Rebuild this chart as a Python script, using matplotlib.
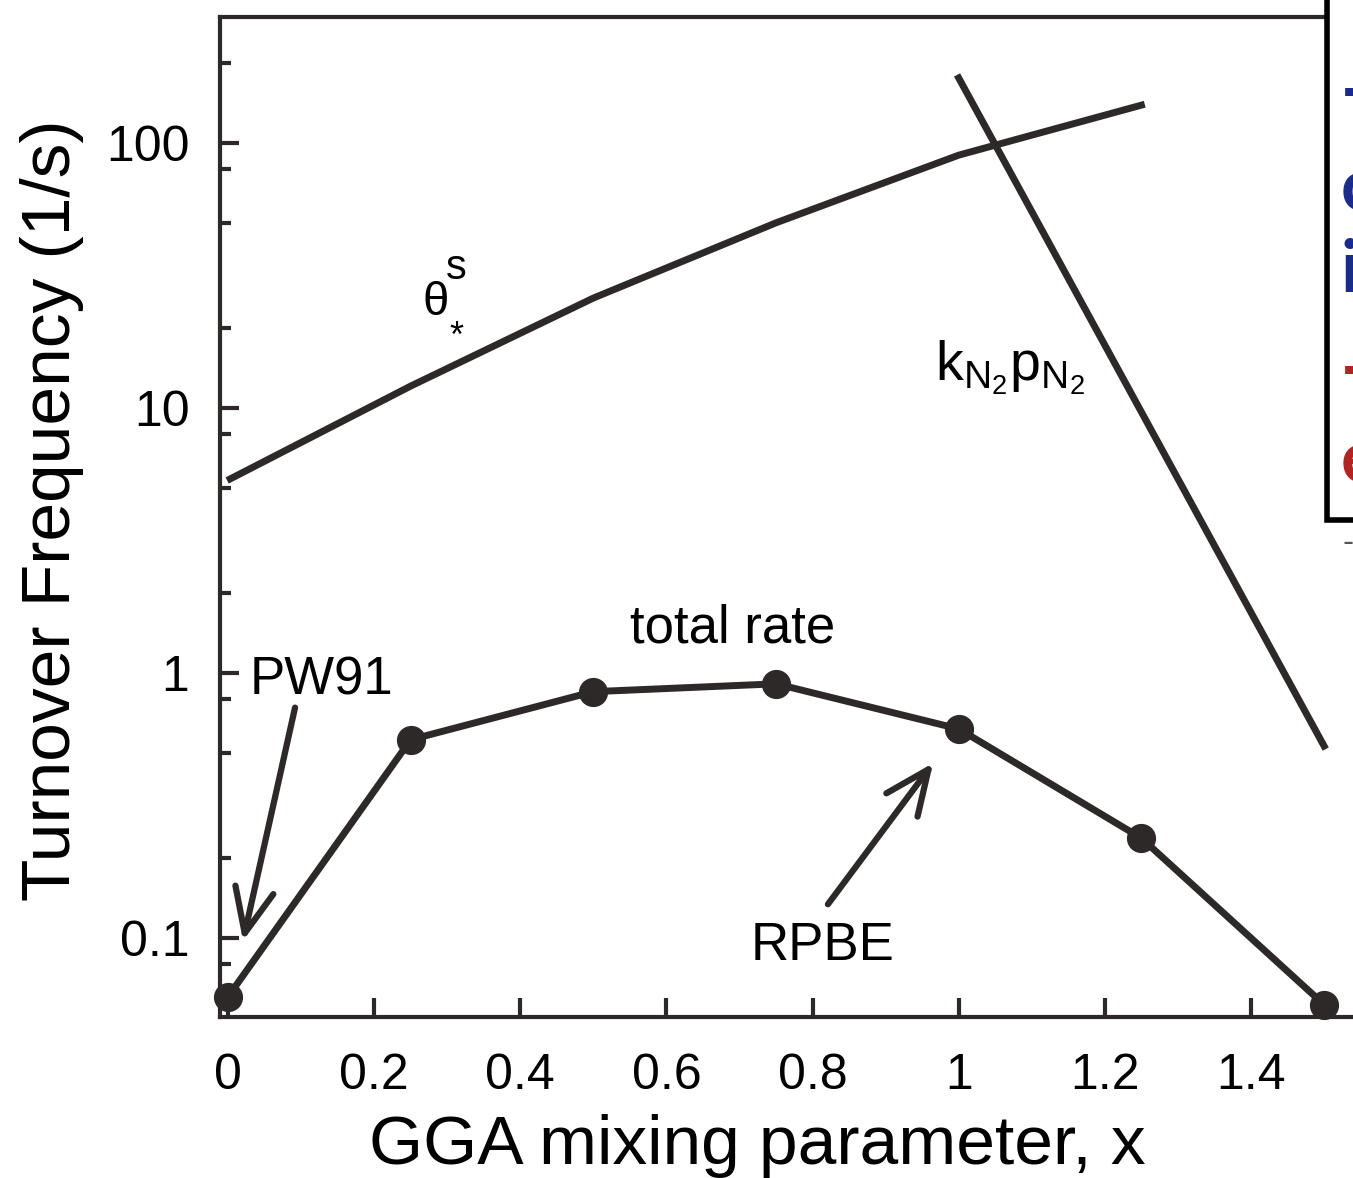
import matplotlib
matplotlib.use("Agg")
import matplotlib.pyplot as plt
import numpy as np
from matplotlib.patches import Rectangle
from matplotlib.ticker import FixedLocator, NullFormatter

plt.rcParams['font.family'] = ['Liberation Sans', 'DejaVu Sans']
plt.rcParams['mathtext.fontset'] = 'custom'
plt.rcParams['mathtext.rm'] = 'Liberation Sans'
plt.rcParams['mathtext.it'] = 'Liberation Sans'

# data
mix_x = [0.0, 0.25, 0.5, 0.75, 1.0, 1.25, 1.5]
total_rate = [0.060, 0.56, 0.85, 0.91, 0.615, 0.238, 0.056]

theta_x = [0.003, 0.25, 0.5, 0.75, 1.0, 1.25]
theta_rate = [5.4, 12.1, 26.0, 50.0, 90.0, 139.0]

kp_x = [1.0, 1.5]
kp_rate = [176.0, 0.53]

x_ticks = [0, 0.2, 0.4, 0.6, 0.8, 1.0, 1.2, 1.4]
x_tick_labels = ["0", "0.2", "0.4", "0.6", "0.8", "1", "1.2", "1.4"]
y_ticks = [0.1, 1, 10, 100]
y_tick_labels = ["0.1", "1", "10", "100"]
y_minor = [0.05, 0.08, 0.2, 0.5, 0.8, 2, 5, 8, 20, 50, 80, 200]

W, H = 1353, 1178
dark = '#2d2929'

fig = plt.figure(figsize=(W / 100, H / 100), dpi=100)
ax = fig.add_axes([220 / W, 1 - 1017 / H, 1 - 220 / W, (1017 - 17) / H])

ax.set_yscale('log')
ax.set_xlim(-0.011, 1.5396)
ax.set_ylim(0.0503, 299)

ax.plot(mix_x, total_rate, color=dark, lw=5, marker='o', ms=20,
        clip_on=False, zorder=4)
ax.plot(theta_x, theta_rate, color=dark, lw=5)
ax.plot(kp_x, kp_rate, color=dark, lw=5)

ax.set_xticks(x_ticks)
ax.set_xticklabels(x_tick_labels)
ax.set_yticks(y_ticks)
ax.set_yticklabels(y_tick_labels)
ax.yaxis.set_minor_locator(FixedLocator(y_minor))
ax.yaxis.set_minor_formatter(NullFormatter())
ax.tick_params(axis='both', which='major', direction='in', length=14,
               width=3, color=dark, labelsize=36, pad=26)
ax.tick_params(axis='y', which='minor', direction='in', length=8,
               width=3, color=dark)
ax.tick_params(axis='y', pad=22)
ax.spines['right'].set_visible(False)
for s in ['left', 'bottom', 'top']:
    ax.spines[s].set_linewidth(3)
    ax.spines[s].set_color(dark)

ax.set_xlabel("GGA mixing parameter, x", fontsize=50)
ax.set_ylabel("Turnover Frequency (1/s)", fontsize=50)
ax.xaxis.set_label_coords(0.474, -0.097)
ax.yaxis.set_label_coords(-0.12, 0.507)

# curve labels
ax.text(0.283, 25, r'$\theta$', fontsize=34, ha='center', va='center')
ax.text(0.313, 33.7, 's', fontsize=30, ha='center', va='center')
ax.text(0.313, 18.5, '*', fontsize=26, ha='center', va='center')
ax.text(1.07, 14.2, r'$\mathregular{k_{N_2}p_{N_2}}$', fontsize=40,
        ha='center', va='center')
ax.text(0.69, 1.466, 'total rate', fontsize=38, ha='center', va='center')
ax.text(0.128, 0.933, 'PW91', fontsize=38, ha='center', va='center')
ax.text(0.814, 0.0935, 'RPBE', fontsize=38, ha='center', va='center')

arrow = dict(arrowstyle='->,head_length=3.2,head_width=1.4', lw=4.5,
             color=dark, shrinkA=0, shrinkB=0)
ax.annotate('', xy=(0.0205, 0.0975), xytext=(0.0917, 0.74), arrowprops=arrow)
ax.annotate('', xy=(0.965, 0.457), xytext=(0.821, 0.134), arrowprops=arrow)

# clipped overlay box at the right edge
fig.patches.append(Rectangle((1327 / W, 1 - 520 / H), 60 / W, 540 / H,
                             transform=fig.transFigure, facecolor='white',
                             edgecolor='black', lw=4, zorder=10))
blue = '#1b2b8c'
red = '#b02424'
for ch, yy, col in [('-', 93, blue), ('c', 190, blue), ('i', 272, blue),
                    ('-', 372, red), ('e', 462, red)]:
    fig.text(1341 / W, 1 - yy / H, ch, color=col, fontsize=52,
             fontweight='bold', family='Lato', va='center', ha='left',
             zorder=11)
fig.text(1343 / W, 1 - 543 / H, '-', color='#555555', fontsize=24,
         va='center', ha='left')

fig.savefig('out.png', dpi=100)
